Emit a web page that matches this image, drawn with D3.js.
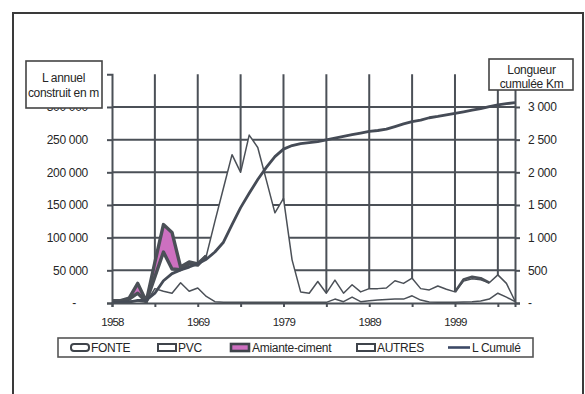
<!DOCTYPE html>
<html>
<head>
<meta charset="utf-8">
<script src="https://cdn.jsdelivr.net/npm/d3@7"></script>
<style>
  html, body { margin: 0; padding: 0; background: #fff; }
  svg { display: block; font-family: "Liberation Sans", Arial, sans-serif; }
</style>
</head>
<body>
<svg id="chart" width="585" height="394"></svg>
<script>
// Years on the category axis (first bucket 1958, then yearly from 1960)
const years = [1958, 1960, 1961, 1962, 1963, 1964, 1965, 1966, 1967, 1968,
  1969, 1970, 1971, 1972, 1973, 1974, 1975, 1976, 1977, 1978,
  1979, 1980, 1981, 1982, 1983, 1984, 1985, 1986, 1987, 1988,
  1989, 1990, 1991, 1992, 1993, 1994, 1995, 1996, 1997, 1998,
  1999, 2000, 2001, 2002, 2003, 2004, 2005, 2006];

// Annual length laid, in metres, per pipe material
const fonte = [2000, 2000, 3000, 3000, 1000, 22000, 18000, 15000, 31000, 18000,
  23000, 10000, 2000, 1000, 1000, 1000, 1000, 1000, 1000, 1000,
  1000, 1000, 1000, 1000, 1000, 1000, 6000, 2000, 9000, 2000,
  3500, 4500, 5500, 6000, 6000, 11000, 4500, 1500, 1000, 1000,
  1000, 1500, 2000, 3000, 6000, 15000, 9000, 2000];
const pvc = [1000, 1000, 3000, 12000, 1000, 18000, 60000, 37000, 20000, 42000,
  35000, 62000, 123000, 175000, 226000, 199000, 256000, 237000, 187000, 137000,
  159000, 65000, 16000, 14000, 32000, 14000, 29000, 13000, 19000, 15000,
  18500, 17500, 17500, 28000, 24000, 27000, 17500, 18500, 25000, 20000,
  16000, 32000, 35000, 32500, 25000, 28000, 21000, 1000];
const amiante = [500, 500, 1500, 15000, 500, 22000, 42000, 56000, 4000, 3000,
  2000, 0, 0, 0, 0, 0, 0, 0, 0, 0,
  0, 0, 0, 0, 0, 0, 0, 0, 0, 0,
  0, 0, 0, 0, 0, 0, 0, 0, 0, 0,
  0, 0, 0, 0, 0, 0, 0, 0];
const autres = [0, 0, 0, 0, 0, 0, 0, 0, 0, 0,
  0, 0, 0, 0, 0, 0, 0, 0, 0, 0,
  0, 0, 0, 0, 0, 0, 0, 0, 0, 0,
  0, 0, 0, 0, 0, 0, 0, 0, 0, 0,
  0, 2500, 3000, 2500, 0, 0, 0, 0];

// Cumulative network length, in km (right axis)
const cumul = [5, 8, 15, 40, 45, 150, 340, 450, 505, 550,
  600, 670, 780, 930, 1200, 1460, 1680, 1890, 2075, 2240,
  2355, 2410, 2440, 2455, 2470, 2495, 2525, 2550, 2575, 2600,
  2625, 2640, 2660, 2700, 2740, 2776, 2800, 2835, 2855, 2880,
  2903, 2925, 2950, 2975, 3005, 3031, 3050, 3066];

const seriesKeys = ["FONTE", "PVC", "Amiante-ciment", "AUTRES"];
const lineName = "L Cumulé";
const leftTicks = [0, 50000, 100000, 150000, 200000, 250000, 300000];
const rightTicks = [0, 500, 1000, 1500, 2000, 2500, 3000];
const labelYears = [1958, 1969, 1979, 1989, 1999];
const gridYears = [1964, 1969, 1974, 1979, 1984, 1989, 1994, 1999, 2004];
const tickYears = [1958].concat(gridYears);
const leftTitle = ["L annuel", "construit en m"];
const rightTitle = ["Longueur", "cumulée Km"];

const INK = "#4b5057";
const TEXT = "#262626";
const PINK = "#cd70c0";

const svg = d3.select("#chart");

const x = d3.scalePoint().domain(years).range([112, 515]);
const yL = d3.scaleLinear().domain([0, 350000]).range([303, 74.3]);
const yR = d3.scaleLinear().domain([0, 3500]).range([303, 74.3]);
const [xMin, xMax] = x.range();

const fmt = d3.formatLocale({ decimal: ",", thousands: " ", grouping: [3], currency: ["", ""] }).format(",");

// Outer frame
svg.append("path")
  .attr("d", "M13,394V13H583V394")
  .attr("fill", "none").attr("stroke", "#3a3a3a").attr("stroke-width", 2);

// Stacked areas
const rows = years.map((yr, i) => ({
  year: yr, "FONTE": fonte[i], "PVC": pvc[i], "Amiante-ciment": amiante[i], "AUTRES": autres[i]
}));
const stacked = d3.stack().keys(seriesKeys)(rows);
const fills = { "FONTE": "#ffffff", "PVC": "#ffffff", "Amiante-ciment": PINK, "AUTRES": "#ffffff" };

const area = d3.area()
  .x(d => x(d.data.year))
  .y0(d => yL(d[0]))
  .y1(d => yL(d[1]));

svg.append("g").selectAll("path").data(stacked).join("path")
  .attr("d", area)
  .attr("fill", s => fills[s.key]);

// Gridlines only show above the stacked total
const topLayer = stacked[stacked.length - 1];
const skyArea = d3.area()
  .x(d => x(d.data.year))
  .y0(yL(350000) - 2)
  .y1(d => yL(d[1]));
svg.append("clipPath").attr("id", "above-total")
  .append("path").attr("d", skyArea(topLayer));

const grid = svg.append("g").attr("clip-path", "url(#above-total)");
leftTicks.filter(d => d > 0).forEach(d => {
  grid.append("line")
    .attr("x1", xMin).attr("x2", xMax)
    .attr("y1", yL(d)).attr("y2", yL(d))
    .attr("stroke", INK).attr("stroke-width", 2);
});
gridYears.forEach(d => {
  grid.append("line")
    .attr("x1", x(d)).attr("x2", x(d))
    .attr("y1", yL(350000)).attr("y2", yL(0))
    .attr("stroke", INK).attr("stroke-width", 2);
});

// Outlines: thin edges for FONTE and PVC, heavy edges where the other series are present
const present = (vals, i) => vals[i] > 0 || (i > 0 && vals[i - 1] > 0) || (i < vals.length - 1 && vals[i + 1] > 0);
const outlines = svg.append("g").attr("fill", "none").attr("stroke", INK).attr("stroke-linejoin", "round");

function edge(layer, which, vals, width) {
  const ln = d3.line()
    .defined((d, i) => vals === null || present(vals, i))
    .x(d => x(d.data.year))
    .y(d => yL(d[which]));
  outlines.append("path").attr("d", ln(layer)).attr("stroke-width", width);
}
edge(stacked[0], 1, null, 1.5);
edge(stacked[1], 1, null, 1.5);
edge(stacked[2], 0, amiante, 3.4);
edge(stacked[2], 1, amiante, 3.4);
edge(stacked[3], 1, autres, 2.6);

// Cumulative length line
const cumLine = d3.line()
  .x((d, i) => x(years[i]))
  .y(d => yR(d));
svg.append("path")
  .attr("d", cumLine(cumul))
  .attr("fill", "none")
  .attr("stroke", "#454b56")
  .attr("stroke-width", 2.8)
  .attr("stroke-linejoin", "round");

// Axes
function styleAxis(g) {
  g.attr("font-family", null).attr("font-size", null);
  g.select(".domain").attr("stroke", INK).attr("stroke-width", 2);
  g.selectAll(".tick line").attr("stroke", INK).attr("stroke-width", 2);
  g.selectAll(".tick text")
    .attr("fill", TEXT)
    .style("font-size", "12px")
    .style("letter-spacing", "-0.3px");
}

const axL = svg.append("g")
  .attr("transform", "translate(112,0)")
  .call(d3.axisLeft(yL).tickValues(leftTicks).tickSize(5).tickPadding(19)
    .tickFormat(d => d === 0 ? "-" : fmt(d)));
styleAxis(axL);
axL.selectAll(".tick text").filter(d => d === 0).attr("dx", -12);

const axR = svg.append("g")
  .attr("transform", "translate(515,0)")
  .call(d3.axisRight(yR).tickValues(rightTicks).tickSize(5).tickPadding(8)
    .tickFormat(d => d === 0 ? "-" : fmt(d)));
styleAxis(axR);

const axB = svg.append("g")
  .attr("transform", "translate(0,303)")
  .call(d3.axisBottom(x).tickValues(tickYears).tickSize(4).tickPadding(11)
    .tickFormat(d => labelYears.includes(d) ? String(d) : ""));
styleAxis(axB);
axB.selectAll(".tick text").style("font-size", "11.5px").style("letter-spacing", "-0.8px");

// Axis title boxes
function titleBox(bx, by, bw, bh, lines, cx, ys) {
  const g = svg.append("g");
  g.append("rect").attr("x", bx).attr("y", by).attr("width", bw).attr("height", bh)
    .attr("fill", "#fff").attr("stroke", "#444").attr("stroke-width", 1.6);
  g.selectAll("text").data(lines).join("text")
    .attr("x", cx).attr("y", (d, i) => ys[i])
    .attr("text-anchor", "middle").attr("dominant-baseline", "central")
    .attr("fill", TEXT).style("font-size", "12px").style("letter-spacing", "-0.3px")
    .text(d => d);
}
titleBox(26, 61, 76, 47, leftTitle, 63.5, [77.5, 93]);
titleBox(489, 59, 84, 31, rightTitle, 531.5, [70, 83.5]);

// Legend
const leg = svg.append("g");
leg.append("rect").attr("x", 58).attr("y", 338).attr("width", 475).attr("height", 19)
  .attr("fill", "#fff").attr("stroke", "#555").attr("stroke-width", 1.6);
const legY = 347.5;
const legendItems = [
  { name: seriesKeys[0], sx: 71, tx: 91, kind: "round", fill: "#fff" },
  { name: seriesKeys[1], sx: 158, tx: 178, kind: "rect", fill: "#fff" },
  { name: seriesKeys[2], sx: 231, tx: 252, kind: "rect", fill: PINK },
  { name: seriesKeys[3], sx: 357, tx: 377, kind: "rect", fill: "#fff" },
  { name: lineName, sx: 448, tx: 472, kind: "line" }
];
legendItems.forEach(it => {
  if (it.kind === "line") {
    leg.append("line").attr("x1", it.sx).attr("x2", it.sx + 22)
      .attr("y1", legY).attr("y2", legY)
      .attr("stroke", "#3c4966").attr("stroke-width", 2.6);
  } else {
    leg.append("rect").attr("x", it.sx).attr("y", legY - 3.5).attr("width", 18).attr("height", 7)
      .attr("rx", it.kind === "round" ? 3 : 0)
      .attr("fill", it.fill).attr("stroke", "#3f444b")
      .attr("stroke-width", it.fill === PINK ? 2.6 : 2);
  }
  leg.append("text").attr("x", it.tx).attr("y", legY)
    .attr("dominant-baseline", "central")
    .attr("fill", TEXT).style("font-size", "12px").style("letter-spacing", "-0.3px")
    .text(it.name);
});
</script>
</body>
</html>
